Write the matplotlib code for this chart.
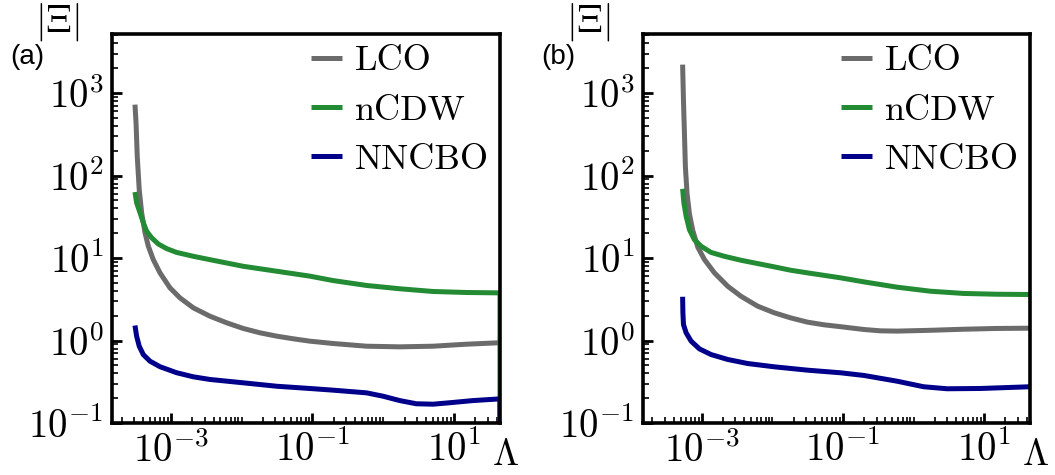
import numpy as np
import matplotlib
matplotlib.use("Agg")
import matplotlib.pyplot as plt
from matplotlib import ticker

plt.rcParams["mathtext.fontset"] = "cm"
plt.rcParams["font.family"] = "cmr10"
plt.rcParams["axes.formatter.use_mathtext"] = True

# ---- panel (a) ----
lam_lco_a = [3.10e-4, 3.21e-4, 3.34e-4, 3.56e-4, 3.85e-4, 4.30e-4, 4.79e-4, 5.62e-4, 7.00e-4,
             9.68e-4, 1.34e-3, 2.07e-3, 3.56e-3, 6.12e-3, 1.05e-2, 1.81e-2, 3.11e-2, 5.33e-2,
             9.18e-2, 0.196, 0.581, 1.71, 5.07, 15.0, 44.7]
lco_a = [724, 437, 170, 67.6, 35.5, 20.2, 13.9, 9.59, 6.61,
         4.35, 3.29, 2.49, 1.97, 1.64, 1.40, 1.24, 1.13, 1.05,
         0.982, 0.920, 0.853, 0.838, 0.853, 0.902, 0.94]

lam_ncdw_a = [3.10e-4, 3.27e-4, 3.65e-4, 4.06e-4, 4.54e-4, 5.33e-4, 6.62e-4, 8.69e-4, 1.20e-3,
              2.07e-3, 3.56e-3, 1.05e-2, 3.11e-2, 9.18e-2, 0.196, 0.581, 1.71, 5.07, 15.0,
              44.7, 44.7]
ncdw_a = [63.1, 46.8, 35.5, 26.9, 21.1, 17.6, 14.8, 13.0, 11.7,
          10.5, 9.55, 7.94, 6.92, 6.03, 5.33, 4.65, 4.24, 3.93, 3.82,
          3.78, 0.01]

lam_nncbo_a = [3.10e-4, 3.27e-4, 3.56e-4, 4.06e-4, 5.05e-4, 7.00e-4, 1.20e-3, 2.07e-3, 3.56e-3,
               1.05e-2, 3.11e-2, 9.18e-2, 0.196, 0.581, 1.0, 1.71, 2.94, 5.07, 8.71, 18.6,
               44.7, 44.7]
nncbo_a = [1.52, 1.13, 0.853, 0.676, 0.562, 0.481, 0.407, 0.363, 0.337,
           0.307, 0.279, 0.262, 0.250, 0.232, 0.211, 0.187, 0.171, 0.169, 0.176, 0.187,
           0.196, 0.01]

# ---- panel (b) ----
lam_lco_b = [5.35e-4, 5.50e-4, 5.68e-4, 5.86e-4, 6.19e-4, 6.68e-4, 7.46e-4, 8.79e-4, 1.09e-3,
             1.51e-3, 2.33e-3, 3.59e-3, 6.18e-3, 1.06e-2, 1.82e-2, 3.14e-2, 5.40e-2, 9.29e-2,
             0.198, 0.340, 0.586, 1.73, 5.12, 15.1, 44.7]
lco_b = [2213, 811, 320, 126, 60.0, 34.3, 21.5, 13.5, 9.59,
         6.61, 4.55, 3.44, 2.61, 2.17, 1.88, 1.67, 1.55, 1.47,
         1.36, 1.31, 1.30, 1.33, 1.37, 1.40, 1.41]

lam_ncdw_b = [5.35e-4, 5.57e-4, 6.00e-4, 6.68e-4, 7.85e-4, 9.77e-4, 1.35e-3, 2.08e-3, 3.59e-3,
              6.18e-3, 1.06e-2, 1.82e-2, 3.14e-2, 9.29e-2, 0.198, 0.586, 1.73, 5.12, 15.1, 44.7]
ncdw_b = [69.0, 46.7, 32.1, 22.1, 16.7, 13.9, 11.7, 10.5, 9.40,
          8.57, 7.82, 7.11, 6.61, 5.75, 5.14, 4.43, 3.96, 3.72, 3.64, 3.61]

lam_nncbo_b = [5.35e-4, 5.40e-4, 5.50e-4, 6.00e-4, 7.06e-4, 9.25e-4, 1.35e-3, 2.33e-3, 4.47e-3,
               1.06e-2, 3.14e-2, 9.29e-2, 0.198, 0.586, 1.39, 2.98, 8.81, 44.7]
nncbo_b = [3.39, 2.17, 1.56, 1.24, 0.982, 0.792, 0.676, 0.589, 0.526,
           0.480, 0.437, 0.406, 0.377, 0.321, 0.275, 0.260, 0.262, 0.275]

labels = ["LCO", "nCDW", "NNCBO"]
colors = ["#6b6b6b", "#238b33", "#00008b"]

fig = plt.figure(figsize=(10.55, 4.75), dpi=100)
ax_a = fig.add_axes([0.1062, 0.1095, 0.3677, 0.8189])
ax_b = fig.add_axes([0.6095, 0.1095, 0.3668, 0.8189])

panels = [
    (ax_a, [(lam_lco_a, lco_a), (lam_ncdw_a, ncdw_a), (lam_nncbo_a, nncbo_a)], "(a)"),
    (ax_b, [(lam_lco_b, lco_b), (lam_ncdw_b, ncdw_b), (lam_nncbo_b, nncbo_b)], "(b)"),
]

for ax, series, tag in panels:
    for (xs, ys), lab, c in zip(series, labels, colors):
        ax.plot(xs, ys, color=c, lw=3.6, label=lab, solid_capstyle="butt")
    ax.set_xscale("log")
    ax.set_yscale("log")
    ax.set_xlim(1.47e-4, 44.7)
    ax.set_ylim(0.1, 5200)
    ax.xaxis.set_major_locator(ticker.FixedLocator([1e-3, 1e-1, 1e1]))
    ax.xaxis.set_major_formatter(ticker.LogFormatterSciNotation())
    ax.xaxis.set_minor_locator(ticker.LogLocator(base=10, subs=np.arange(1, 10), numticks=30))
    ax.xaxis.set_minor_formatter(ticker.NullFormatter())
    ax.yaxis.set_major_locator(ticker.LogLocator(base=10, numticks=20))
    ax.yaxis.set_minor_locator(ticker.LogLocator(base=10, subs=np.arange(2, 10), numticks=30))
    ax.yaxis.set_minor_formatter(ticker.NullFormatter())
    ax.tick_params(which="major", direction="in", length=7, width=2, labelsize=28, pad=6)
    ax.tick_params(which="minor", direction="in", length=4, width=1.2)
    for sp in ax.spines.values():
        sp.set_linewidth(2.6)
    ax.legend(loc="upper right", frameon=False, fontsize=26, handlelength=0.85,
              handletextpad=0.35, labelspacing=0.47, borderaxespad=0.0, borderpad=0.31)
    ax.text(-0.142, 1.03, r"$|\Xi|$", transform=ax.transAxes, fontsize=28,
            ha="center", va="center")
    ax.text(1.015, -0.082, r"$\Lambda$", transform=ax.transAxes, fontsize=27,
            ha="center", va="center")
    ax.text(-0.219, 0.941, tag, transform=ax.transAxes, fontsize=20,
            family="Liberation Sans", ha="center", va="center")

fig.savefig("out.png", dpi=100)
